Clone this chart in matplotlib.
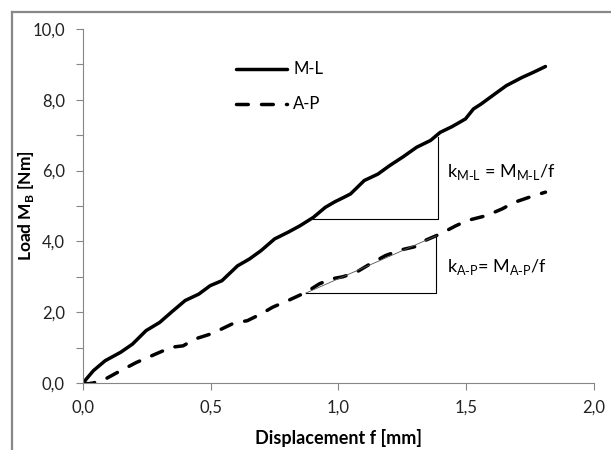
import matplotlib.pyplot as plt
from matplotlib.lines import Line2D

plt.rcParams['font.family'] = ['Lato', 'DejaVu Sans']

# M-L curve (solid)
ml_f = [0.0, 0.041, 0.087, 0.148, 0.194, 0.247, 0.30, 0.346, 0.40, 0.453, 0.498, 0.544,
        0.605, 0.651, 0.697, 0.75, 0.803, 0.849, 0.902, 0.948, 0.986, 1.017, 1.047,
        1.101, 1.154, 1.20, 1.253, 1.306, 1.36, 1.398, 1.444, 1.497, 1.528, 1.558,
        1.611, 1.657, 1.718, 1.764, 1.81]
ml_m = [0.0, 0.35, 0.63, 0.87, 1.10, 1.48, 1.71, 2.00, 2.33, 2.51, 2.75, 2.89,
        3.31, 3.50, 3.74, 4.07, 4.26, 4.44, 4.68, 4.96, 5.12, 5.23, 5.34,
        5.72, 5.90, 6.14, 6.39, 6.66, 6.85, 7.08, 7.24, 7.46, 7.74, 7.88,
        8.16, 8.40, 8.63, 8.78, 8.94]

# A-P curve (dashed)
ap_f = [0.0, 0.02, 0.04, 0.087, 0.148, 0.209, 0.285, 0.346, 0.392, 0.437, 0.498, 0.544,
        0.59, 0.643, 0.697, 0.742, 0.803, 0.872, 0.925, 0.971, 1.017, 1.07, 1.123,
        1.184, 1.245, 1.299, 1.337, 1.398, 1.459, 1.504, 1.58, 1.641, 1.687, 1.764, 1.81]
ap_m = [0.0, -0.02, 0.0, 0.11, 0.35, 0.58, 0.82, 1.01, 1.05, 1.24, 1.38, 1.53,
        1.69, 1.76, 1.95, 2.14, 2.33, 2.56, 2.80, 2.94, 3.00, 3.13, 3.36,
        3.60, 3.76, 3.85, 4.02, 4.21, 4.44, 4.59, 4.73, 4.92, 5.10, 5.29, 5.39]

# slope triangles: (f0, f1, M0, M1)
tri_ml = (0.902, 1.39, 4.63, 6.94)
tri_ap = (0.872, 1.383, 2.54, 4.16)

fig = plt.figure(figsize=(6.11, 4.5), dpi=100)
ax = fig.add_axes([0.1358, 0.1489, 0.8364, 0.7867])

# outer chart frame (only top and left visible)
fig.add_artist(Line2D([0.0196, 0.0196], [0.0, 0.9733], color='#888888', lw=1.6, transform=fig.transFigure))
fig.add_artist(Line2D([0.0196, 1.0], [0.9733, 0.9733], color='#888888', lw=1.6, transform=fig.transFigure))

dash = (3.4, 3.8)
ax.plot(ml_f, ml_m, color='black', lw=2.5, solid_capstyle='round', solid_joinstyle='round')
ax.plot(ap_f, ap_m, color='black', lw=2.5, dashes=dash, dash_capstyle='round')

# slope triangles
f0, f1, m0, m1 = tri_ml
ax.plot([f0, f1, f1], [m0, m0, m1], color='black', lw=0.8)
f0, f1, m0, m1 = tri_ap
ax.plot([f0, f1, f1], [m0, m0, m1], color='black', lw=0.8)
ax.plot([f0, f1], [m0, m1], color='#555555', lw=0.6)

ax.text(1.425, 5.95, r'k$_{\mathregular{M\text{-}L}}$ = M$_{\mathregular{M\text{-}L}}$/f',
        fontsize=13, va='center', ha='left')
ax.text(1.425, 3.27, r'k$_{\mathregular{A\text{-}P}}$= M$_{\mathregular{A\text{-}P}}$/f',
        fontsize=13, va='center', ha='left')

# legend drawn in data space
ax.plot([0.599, 0.798], [8.86, 8.86], color='black', lw=2.5, solid_capstyle='round')
ax.plot([0.599, 0.798], [7.89, 7.89], color='black', lw=2.5, dashes=dash, dash_capstyle='round')
ax.text(0.822, 8.86, 'M-L', fontsize=12, va='center')
ax.text(0.822, 7.89, 'A-P', fontsize=12, va='center')

ax.set_xlim(0, 2.0)
ax.set_ylim(0, 10.0)
ax.set_xticks([0, 0.5, 1.0, 1.5, 2.0])
ax.set_xticklabels(['0,0', '0,5', '1,0', '1,5', '2,0'])
ax.set_yticks([0, 2, 4, 6, 8, 10])
ax.set_yticklabels(['0,0', '2,0', '4,0', '6,0', '8,0', '10,0'])
ax.set_yticks([1, 3, 5, 7, 9], minor=True)
ax.tick_params(axis='both', labelsize=12, color='#868686', labelcolor='#222222', length=5, width=0.8)
ax.tick_params(axis='y', pad=8)
ax.tick_params(axis='x', pad=7)
ax.tick_params(axis='y', which='minor', color='#868686', length=5, width=0.8)

for s in ['top', 'right']:
    ax.spines[s].set_visible(False)
for s in ['left', 'bottom']:
    ax.spines[s].set_color('#868686')
    ax.spines[s].set_linewidth(0.8)

ax.set_xlabel('Displacement f [mm]', fontsize=13, fontweight='bold')
ax.set_ylabel(r'Load M$_{\mathregular{B}}$ [Nm]', fontsize=12.5, fontweight='bold')
ax.xaxis.set_label_coords(0.5, -0.13)
ax.yaxis.set_label_coords(-0.092, 0.5)

fig.savefig('out.png', dpi=100)
